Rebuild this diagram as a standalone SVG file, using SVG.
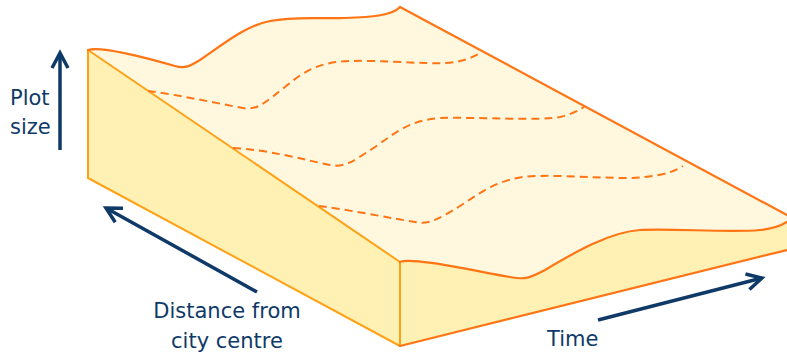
<svg xmlns="http://www.w3.org/2000/svg" width="787" height="354" viewBox="0 0 787 354">
<style>
.side{fill:#FFF0B4;stroke:none}
.top{fill:#FFF8DF;stroke:none}
.amber{fill:none;stroke:#FFA117;stroke-width:2;stroke-linejoin:round}
.edge{fill:none;stroke:#FF7414;stroke-width:2.2;stroke-linejoin:round;stroke-linecap:round}
.dash{fill:none;stroke:#FF7414;stroke-width:2;stroke-dasharray:8 5}
.arrow{fill:none;stroke:#0F3A68;stroke-width:3.5;marker-end:url(#chev)}
.lbl{font-family:"DejaVu Sans","Liberation Sans",sans-serif;font-size:21px;fill:#0F3A68}
</style>
<defs>
<marker id="chev" markerUnits="userSpaceOnUse" markerWidth="40" markerHeight="40" viewBox="-20 -20 40 40" refX="0" refY="0" orient="auto" overflow="visible">
<path d="M-15,-8 L0,0 L-15,8" fill="none" stroke="#0F3A68" stroke-width="3.5"/>
</marker>
</defs>
<g id="block">
<polygon class="side" points="88,50 400,262 400,346 88,178"/>
<path class="side" d="M400,262 C412,257 470,270 510,277 C525,280 530,278 545,270 C575,252 610,232 640,230 C670,228 730,233 760,230 C772,229 782,225 787,222 L787,250 L400,346 Z"/>
<path class="top" d="M88,50 C100,46 140,56 175,66 C185,69 190,66 200,60 C225,43 245,26 270,21 C295,16 320,19 345,18 C370,17 392,16 400,7 L787,215 L787,222 C782,225 772,229 760,230 C730,233 670,228 640,230 C610,232 575,252 545,270 C530,278 525,280 510,277 C470,270 412,257 400,262 Z"/>
<polyline class="amber" points="400,262 88,50 88,178 400,346 400,262"/>
<path class="edge" d="M400,346 L787,250"/>
<path class="edge" d="M88,50 C100,46 140,56 175,66 C185,69 190,66 200,60 C225,43 245,26 270,21 C295,16 320,19 345,18 C370,17 392,16 400,7 L787,215"/>
<path class="edge" d="M400,262 C412,257 470,270 510,277 C525,280 530,278 545,270 C575,252 610,232 640,230 C670,228 730,233 760,230 C772,229 782,225 787,222"/>
<path class="dash" d="M148,91 C180,95 220,104 243,108 C258,111 268,100 285,87 C305,70 320,62 350,61 C380,60 420,64 445,63 C462,62 472,58 482,52"/>
<path class="dash" d="M233,148 C270,150 305,160 330,165 C345,168 355,160 375,147 C395,133 410,120 440,118 C480,117 540,121 560,117 C572,114 578,111 584,107"/>
<path class="dash" d="M319,206 C350,210 390,218 415,222 C430,225 440,218 460,206 C480,193 500,177 535,176 C575,175 620,180 645,177 C665,175 675,171 683,166"/>
</g>
<g id="connectors">
<path class="arrow" d="M60,150 L60,53"/>
<path class="arrow" d="M257,292 L106,208"/>
<path class="arrow" d="M598,320 L762,278"/>
</g>
<g id="label-plot-size">
<text class="lbl" x="10" y="105">Plot</text>
<text class="lbl" x="10" y="134">size</text>
</g>
<g id="label-distance">
<text class="lbl" x="227" y="318" text-anchor="middle">Distance from</text>
<text class="lbl" x="227" y="348" text-anchor="middle">city centre</text>
</g>
<g id="label-time">
<text class="lbl" x="547" y="346">Time</text>
</g>
</svg>
